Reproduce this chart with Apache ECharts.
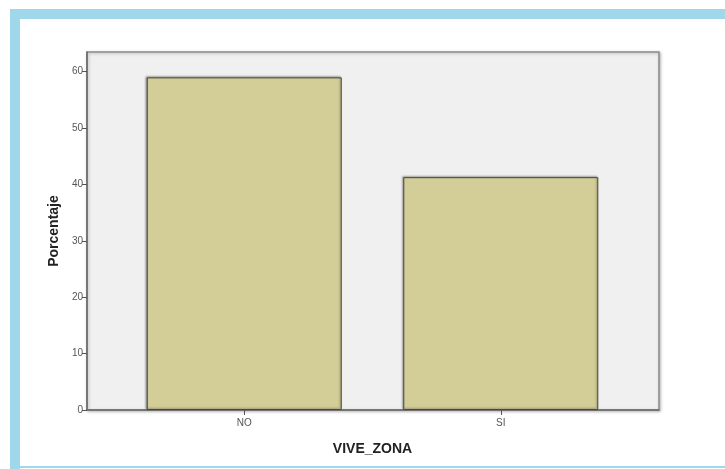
<!DOCTYPE html>
<html>
<head>
<meta charset="utf-8">
<script src="https://cdn.jsdelivr.net/npm/echarts@6/dist/echarts.min.js"></script>
<style>
html,body{margin:0;padding:0;background:#fff;}
#chart{width:725px;height:469px;}
</style>
</head>
<body>
<div id="chart"></div>
<script>
const categories = ['NO', 'SI'];
const percentValues = [59.0, 41.3];
const yTicks = [0, 10, 20, 30, 40, 50, 60];

const chart = echarts.init(document.getElementById('chart'), null, {renderer: 'canvas'});
const font = 'Liberation Sans, Arial, sans-serif';
const yMin = yTicks[0], yMax = 63.5, yStep = yTicks[1] - yTicks[0];

chart.setOption({
  animation: false,
  backgroundColor: '#ffffff',
  graphic: [
    {type: 'rect', shape: {x: 10, y: 9, width: 715, height: 10}, style: {fill: '#9ed8ea'}},
    {type: 'rect', shape: {x: 10, y: 9, width: 10, height: 460}, style: {fill: '#9ed8ea'}},
    {type: 'rect', shape: {x: 10, y: 466, width: 715, height: 2}, style: {fill: '#9ed8ea'}}
  ],
  grid: [
    {left: 87, right: 66, top: 52, bottom: 59, show: true, backgroundColor: '#f0f0f0',
     borderColor: '#8c8c8c', borderWidth: 1.5, shadowColor: 'rgba(0,0,0,0.25)', shadowBlur: 3, shadowOffsetX: 1, shadowOffsetY: 1},
    {left: 116, right: 96, top: 52, bottom: 59}
  ],
  xAxis: [
    {gridIndex: 0, type: 'value', min: 0, max: 1, show: true,
     axisLine: {show: true, lineStyle: {color: '#6a6a6a', width: 1.5}},
     axisTick: {show: false}, axisLabel: {show: false}, splitLine: {show: false}},
    {gridIndex: 1, type: 'category', data: categories,
     name: 'VIVE_ZONA', nameLocation: 'middle', nameGap: 32,
     nameTextStyle: {fontFamily: font, fontSize: 14, fontWeight: 'bold', color: '#222'},
     axisLine: {show: false},
     axisTick: {show: true, alignWithLabel: true, length: 5, lineStyle: {color: '#555'}},
     axisLabel: {fontFamily: font, fontSize: 10, color: '#555', margin: 8},
     splitLine: {show: false}}
  ],
  yAxis: [
    {gridIndex: 0, type: 'value', min: yMin, max: yMax, interval: yStep,
     name: 'Porcentaje', nameLocation: 'middle', nameGap: 25,
     nameTextStyle: {fontFamily: font, fontSize: 14, fontWeight: 'bold', color: '#222'},
     axisLine: {show: true, lineStyle: {color: '#6a6a6a', width: 1.5}},
     axisTick: {show: true, length: 5, lineStyle: {color: '#555'}},
     axisLabel: {fontFamily: font, fontSize: 10, color: '#555', margin: 4, showMaxLabel: false},
     splitLine: {show: false}},
    {gridIndex: 1, type: 'value', min: yMin, max: yMax, show: false}
  ],
  series: [{
    type: 'bar',
    xAxisIndex: 1, yAxisIndex: 1,
    data: percentValues,
    barWidth: 195,
    itemStyle: {color: '#d3ce98', borderColor: '#4a4a3a', borderWidth: 1,
      shadowColor: 'rgba(0,0,0,0.35)', shadowBlur: 2, shadowOffsetX: -1, shadowOffsetY: -1}
  }]
});
</script>
</body>
</html>
